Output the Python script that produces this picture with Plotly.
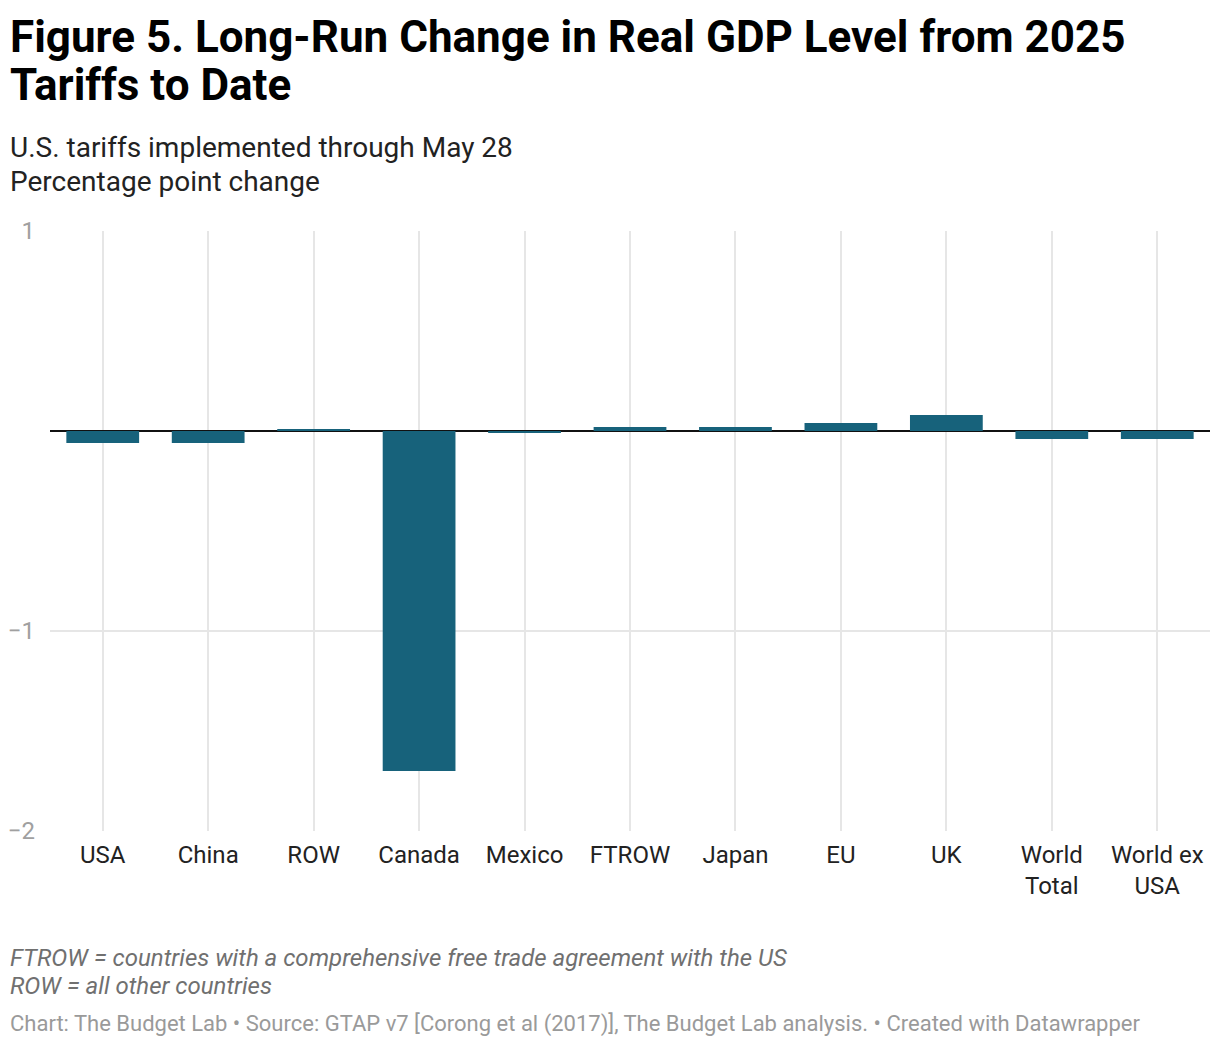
import plotly.graph_objects as go

categories = ["USA", "China", "ROW", "Canada", "Mexico", "FTROW", "Japan", "EU", "UK", "World<br>Total", "World ex<br>USA"]
values = [-0.06, -0.06, 0.01, -1.70, -0.01, 0.02, 0.02, 0.04, 0.08, -0.04, -0.04]
y_ticks = [1, -1, -2]
y_tick_labels = ["1", "−1", "−2"]

W, H = 1212, 1038
PL, PR = 42, 1202   # plot left/right in px (figure coords)
PT, PB = 223, 823   # plot top/bottom in px

def py(px):
    return (PB - px) / (PB - PT)

def px_(x):
    return (x - PL) / (PR - PL)

fig = go.Figure()
fig.add_trace(go.Bar(
    x=categories, y=values,
    marker=dict(color="#17627b", line=dict(width=0)),
    width=0.69,
    hoverinfo="x+y",
))

fig.update_layout(
    width=W, height=H,
    margin=dict(l=PL, r=W - PR, t=PT, b=H - PB, pad=0, autoexpand=False),
    paper_bgcolor="white", plot_bgcolor="white",
    font=dict(family="Roboto", color="#333333"),
    showlegend=False,
    xaxis=dict(
        showgrid=True, gridcolor="#e6e6e6", gridwidth=2,
        tickfont=dict(size=24, color="#222222"),
        ticks="", showline=False, zeroline=False,
        ticklabelstandoff=7, automargin=False,
    ),
    yaxis=dict(
        range=[-2, 1], tickvals=y_ticks, ticktext=y_tick_labels,
        showgrid=True, gridcolor="#e6e6e6", gridwidth=2,
        zeroline=True, zerolinecolor="#111111", zerolinewidth=2,
        tickfont=dict(size=24, color="#a0a0a0"),
        ticks="", showline=False, ticklabelstandoff=14, automargin=False,
    ),
)

annos = [
    dict(text="<b>Figure 5. Long-Run Change in Real GDP Level from 2025</b>", y=1, size=44, color="#000000"),
    dict(text="<b>Tariffs to Date</b>", y=49, size=44, color="#000000"),
    dict(text="U.S. tariffs implemented through May 28", y=121, size=28, color="#222222"),
    dict(text="Percentage point change", y=155, size=28, color="#222222"),
    dict(text="<i>FTROW = countries with a comprehensive free trade agreement with the US</i>", y=934, size=24, color="#707070"),
    dict(text="<i>ROW = all other countries</i>", y=962, size=24, color="#707070"),
    dict(text="Chart: The Budget Lab • Source: GTAP v7 [Corong et al (2017)], The Budget Lab analysis. • Created with Datawrapper",
         y=1001, size=22, color="#9a9a9a"),
]
for a in annos:
    fig.add_annotation(
        text=a["text"], xref="paper", yref="paper",
        x=px_(0), y=py(a["y"]),
        xanchor="left", yanchor="top", align="left", showarrow=False,
        font=dict(size=a["size"], color=a["color"], family="Roboto"),
    )

fig.write_html("out.html")
